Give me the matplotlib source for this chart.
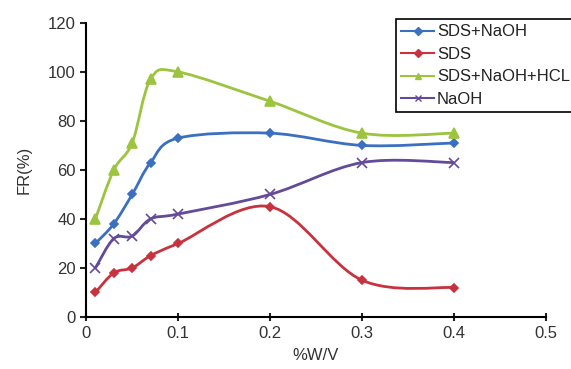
import numpy as np
import matplotlib.pyplot as plt
from matplotlib.path import Path
from matplotlib.patches import PathPatch
from matplotlib.lines import Line2D

plt.rcParams['font.family'] = ['Liberation Sans', 'DejaVu Sans']

conc = [0.01, 0.03, 0.05, 0.07, 0.1, 0.2, 0.3, 0.4]
sds_naoh = [30, 38, 50, 63, 73, 75, 70, 71]
sds = [10, 18, 20, 25, 30, 45, 15, 12]
sds_naoh_hcl = [40, 60, 71, 97, 100, 88, 75, 75]
naoh = [20, 32, 33, 40, 42, 50, 63, 63]

labels = ['SDS+NaOH', 'SDS', 'SDS+NaOH+HCL', 'NaOH']
colors = ['#3b6fc2', '#c8323e', '#9cc43e', '#634a9a']
markers = ['D', 'D', '^', 'x']


def smooth_path(x, y):
    # excel-like smoothed line: cubic bezier, control points from neighbours
    x = np.asarray(x, float)
    y = np.asarray(y, float)
    verts = [(x[0], y[0])]
    codes = [Path.MOVETO]
    n = len(x)
    for i in range(n - 1):
        p0 = np.array([x[max(i - 1, 0)], y[max(i - 1, 0)]])
        p1 = np.array([x[i], y[i]])
        p2 = np.array([x[i + 1], y[i + 1]])
        p3 = np.array([x[min(i + 2, n - 1)], y[min(i + 2, n - 1)]])
        c1 = p1 + (p2 - p0) / 6
        c2 = p2 - (p3 - p1) / 6
        verts += [tuple(c1), tuple(c2), tuple(p2)]
        codes += [Path.CURVE4] * 3
    return Path(verts, codes)


fig = plt.figure(figsize=(5.71, 3.69), dpi=100)
ax = fig.add_axes([0.151, 0.141, 0.805, 0.797])

handles = []
for ys, c, m, lab in zip([sds_naoh, sds, sds_naoh_hcl, naoh], colors, markers, labels):
    ax.add_patch(PathPatch(smooth_path(conc, ys), fill=False, edgecolor=c, lw=2))
    ms = 4.5 if m == 'D' else 6.5
    ax.plot(conc, ys, ls='none', marker=m, color=c, ms=ms, mew=1.2)
    handles.append(Line2D([], [], color=c, lw=1.5, marker=m, ms=4))

ax.set_xlim(0, 0.5)
ax.set_ylim(0, 120)
ax.set_xticks([0, 0.1, 0.2, 0.3, 0.4, 0.5])
ax.set_xticklabels(['0', '0.1', '0.2', '0.3', '0.4', '0.5'])
ax.set_yticks(range(0, 121, 20))
ax.spines['top'].set_visible(False)
ax.spines['right'].set_visible(False)
ax.spines['left'].set_linewidth(1.5)
ax.spines['bottom'].set_linewidth(1.5)
ax.tick_params(labelsize=12, width=1.5, length=4, color='#222222', labelcolor='#333333')
ax.tick_params(axis='x', direction='inout', length=6)
ax.set_xlabel('%W/V', fontsize=12, color='#333333', labelpad=5)
ax.set_ylabel('FR(%)', fontsize=12, color='#333333', labelpad=12)

leg = ax.legend(handles, labels, loc='upper left', bbox_to_anchor=(0.674, 1.012),
                fontsize=12, frameon=True, fancybox=False, edgecolor='black',
                framealpha=1, handlelength=2.0, handletextpad=0.15,
                labelspacing=0.45, borderpad=0.3, borderaxespad=0)
leg.get_frame().set_linewidth(1.2)
for t in leg.get_texts():
    t.set_color('#222222')

fig.savefig('out.png', dpi=100)
